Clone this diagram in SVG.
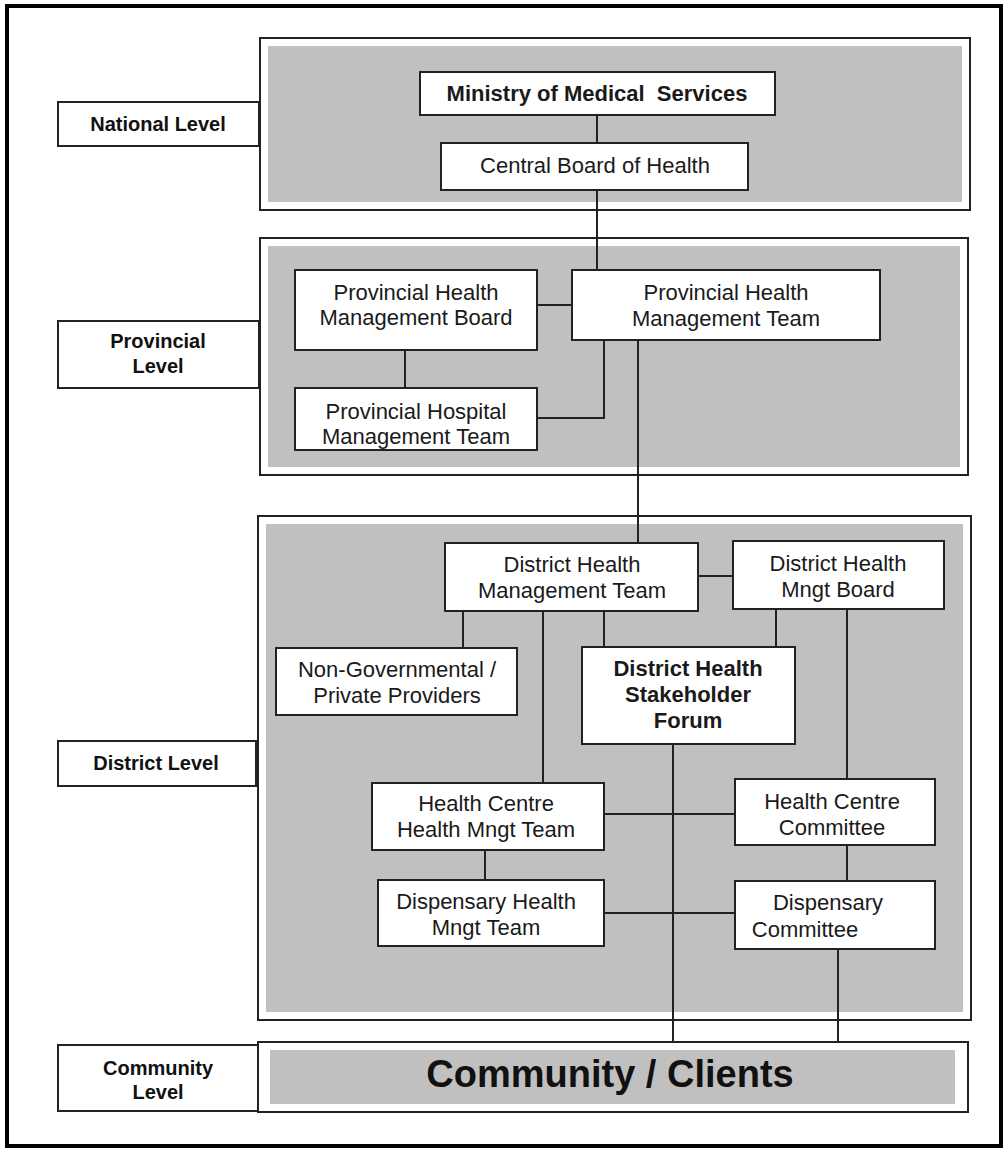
<svg xmlns="http://www.w3.org/2000/svg" width="1008" height="1150" viewBox="0 0 1008 1150">
<style>
.panel{fill:#ffffff;stroke:#222;stroke-width:2}
.gray{fill:#c0c0c0;stroke:none}
.box{fill:#ffffff;stroke:#222;stroke-width:2}
.lab{fill:#ffffff;stroke:#222;stroke-width:2}
.t{font-family:"Liberation Sans",Arial,sans-serif;font-size:22px;fill:#1a1a1a;text-anchor:middle}
.b{font-weight:bold}
.lt{font-family:"Liberation Sans",Arial,sans-serif;font-size:20px;font-weight:bold;fill:#111;text-anchor:middle}
.big{font-family:"Liberation Sans",Arial,sans-serif;font-size:38px;font-weight:bold;fill:#111;text-anchor:middle}
.c{stroke:#222;stroke-width:2;fill:none}
</style>
<rect x="0" y="0" width="1008" height="1150" fill="#ffffff"/>
<rect x="7" y="6" width="994" height="1140" fill="none" stroke="#000" stroke-width="4"/>

<g id="panels">
<rect class="panel" x="260" y="38" width="710" height="172"/>
<rect class="gray" x="268" y="46" width="694" height="156"/>
<rect class="panel" x="260" y="238" width="708" height="237"/>
<rect class="gray" x="268" y="246" width="692" height="221"/>
<rect class="panel" x="258" y="516" width="713" height="504"/>
<rect class="gray" x="266" y="524" width="697" height="488"/>
</g>

<g id="connectors">
<line class="c" x1="597" y1="115" x2="597" y2="143"/>
<line class="c" x1="597" y1="190" x2="597" y2="270"/>
<line class="c" x1="537" y1="305" x2="572" y2="305"/>
<line class="c" x1="405" y1="350" x2="405" y2="388"/>
<polyline class="c" points="537,418 604,418 604,340"/>
<line class="c" x1="638" y1="340" x2="638" y2="543"/>
<line class="c" x1="698" y1="576" x2="733" y2="576"/>
<line class="c" x1="463" y1="611" x2="463" y2="648"/>
<line class="c" x1="604" y1="611" x2="604" y2="647"/>
<line class="c" x1="543" y1="611" x2="543" y2="783"/>
<line class="c" x1="776" y1="609" x2="776" y2="647"/>
<line class="c" x1="847" y1="609" x2="847" y2="779"/>
<line class="c" x1="673" y1="744" x2="673" y2="1042"/>
<line class="c" x1="604" y1="814" x2="735" y2="814"/>
<line class="c" x1="485" y1="850" x2="485" y2="880"/>
<line class="c" x1="847" y1="845" x2="847" y2="881"/>
<line class="c" x1="604" y1="913" x2="735" y2="913"/>
<line class="c" x1="838" y1="949" x2="838" y2="1042"/>
</g>

<g id="national-level"><rect class="lab" x="58" y="102" width="201" height="44"/><text class="lt" x="158" y="131">National Level</text></g>
<g id="provincial-level"><rect class="lab" x="58" y="321" width="201" height="67"/><text class="lt" x="158" y="348">Provincial</text><text class="lt" x="158" y="373">Level</text></g>
<g id="district-level"><rect class="lab" x="58" y="741" width="198" height="45"/><text class="lt" x="156" y="770">District Level</text></g>
<g id="community-level"><rect class="lab" x="58" y="1045" width="201" height="66"/><text class="lt" x="158" y="1075">Community</text><text class="lt" x="158" y="1099">Level</text></g>

<g id="ministry"><rect class="box" x="420" y="72" width="355" height="43"/><text class="t b" x="597" y="101">Ministry of Medical&#160; Services</text></g>
<g id="cbh"><rect class="box" x="441" y="143" width="307" height="47"/><text class="t" x="595" y="173">Central Board of Health</text></g>

<g id="phmb"><rect class="box" x="295" y="270" width="242" height="80"/><text class="t" x="416" y="300">Provincial Health</text><text class="t" x="416" y="325">Management Board</text></g>
<g id="phmt"><rect class="box" x="572" y="270" width="308" height="70"/><text class="t" x="726" y="300">Provincial Health</text><text class="t" x="726" y="326">Management Team</text></g>
<g id="phospmt"><rect class="box" x="295" y="388" width="242" height="62"/><text class="t" x="416" y="419">Provincial Hospital</text><text class="t" x="416" y="444">Management Team</text></g>

<g id="dhmt"><rect class="box" x="445" y="543" width="253" height="68"/><text class="t" x="572" y="572">District Health</text><text class="t" x="572" y="598">Management Team</text></g>
<g id="dhmb"><rect class="box" x="733" y="541" width="211" height="68"/><text class="t" x="838" y="571">District Health</text><text class="t" x="838" y="597">Mngt Board</text></g>
<g id="ngo"><rect class="box" x="276" y="648" width="241" height="67"/><text class="t" x="397" y="677">Non-Governmental /</text><text class="t" x="397" y="703">Private Providers</text></g>
<g id="dhsf"><rect class="box" x="582" y="647" width="213" height="97"/><text class="t b" x="688" y="676">District Health</text><text class="t b" x="688" y="702">Stakeholder</text><text class="t b" x="688" y="728">Forum</text></g>
<g id="hchmt"><rect class="box" x="372" y="783" width="232" height="67"/><text class="t" x="486" y="811">Health Centre</text><text class="t" x="486" y="837">Health Mngt Team</text></g>
<g id="hcc"><rect class="box" x="735" y="779" width="200" height="66"/><text class="t" x="832" y="809">Health Centre</text><text class="t" x="832" y="835">Committee</text></g>
<g id="dhmt2"><rect class="box" x="378" y="880" width="226" height="66"/><text class="t" x="486" y="909">Dispensary Health</text><text class="t" x="486" y="935">Mngt Team</text></g>
<g id="dc"><rect class="box" x="735" y="881" width="200" height="68"/><text class="t" x="828" y="910">Dispensary</text><text class="t" x="805" y="937">Committee</text></g>

<g id="community"><rect class="panel" x="258" y="1042" width="710" height="70"/><rect class="gray" x="270" y="1050" width="685" height="54"/><text class="big" x="610" y="1087">Community / Clients</text></g>
</svg>
